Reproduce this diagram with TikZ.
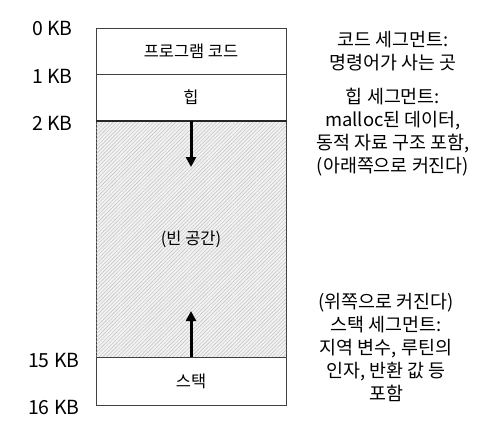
\documentclass[tikz,border=0pt]{standalone}
\usepackage{fontspec}
\setmainfont{Noto Sans CJK KR}
\usetikzlibrary{arrows.meta,patterns.meta}
\begin{document}
\begin{tikzpicture}[x=1bp,y=-1bp,
  seg/.style={draw=black!75, line width=1bp, minimum width=190bp, inner sep=0pt,
    font=\fontsize{16.5}{19}\selectfont},
  kb/.style={anchor=west, inner sep=0pt, font=\fontsize{19.5}{21}\selectfont},
  note/.style={align=center, inner sep=0pt, font=\fontsize{18.5}{23.3}\selectfont},
  growarrow/.style={line width=3bp, -{Triangle[width=10bp,length=10bp]}}]
\useasboundingbox (0,0) rectangle (486,423);
\node[seg, minimum height=46bp] (code) at (191,51) {프로그램 코드};
\node[seg, minimum height=47bp] (heap) at (191,97.5) {힙};
\node[seg, minimum height=236.5bp, fill=gray!10,
  postaction={pattern={Lines[angle=45,distance=2.6bp,line width=0.45bp]}, pattern color=gray!50}] (free) at (191,239.25) {(빈 공간)};
\node[seg, minimum height=47.5bp] (stack) at (191,381.25) {스택};
\draw[line width=2bp, black!85] (free.north west) -- (free.north east);
\coordinate (hend) at (191,167);
\coordinate (send) at (191,311);
\draw[growarrow] (free.north) -- (hend);
\draw[growarrow] (stack.north) -- (send);
\node[kb] (k0) at (32,29) {0 KB};
\node[kb] (k1) at (32,76) {1 KB};
\node[kb] (k2) at (32,123) {2 KB};
\node[kb] (k15) at (28,360) {15 KB};
\node[kb] (k16) at (28,407) {16 KB};
\node[note] (ncode) at (393,51.5) {코드 세그먼트:\\명령어가 사는 곳};
\node[note] (nheap) at (393,132) {힙 세그먼트:\\malloc된 데이터,\\동적 자료 구조 포함,\\(아래쪽으로 커진다)};
\node[note] (nstack) at (386,347.5) {(위쪽으로 커진다)\\스택 세그먼트:\\지역 변수, 루틴의\\인자, 반환 값 등\\포함};
\end{tikzpicture}
\end{document}
